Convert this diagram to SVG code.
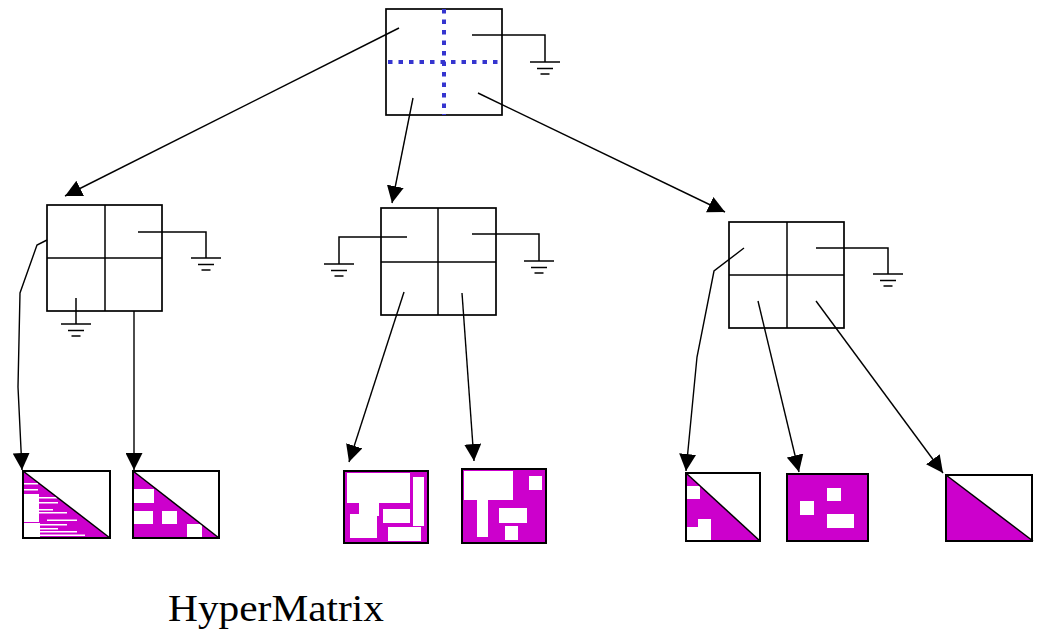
<svg xmlns="http://www.w3.org/2000/svg" width="1037" height="634" viewBox="0 0 1037 634">
<style>
.box{fill:none;stroke:#000;stroke-width:1.7}
.w{fill:none;stroke:#000;stroke-width:1.5}
.c{fill:none;stroke:#000;stroke-width:1.4;marker-end:url(#ah)}
.dot{fill:none;stroke:#3535cf;stroke-width:4;stroke-dasharray:4.5 6}
.mag{fill:#cc00cc}
.wh{fill:#fff}
.mb{fill:none;stroke:#000;stroke-width:2}
.lbl{font-family:"Liberation Serif","Times New Roman",serif;font-size:38px;fill:#000}
</style>
<defs>
<marker id="ah" markerUnits="userSpaceOnUse" viewBox="0 0 17 17" markerWidth="17" markerHeight="17" refX="17" refY="8.5" orient="auto">
<path d="M0,0 L17,8.5 L0,17 Z" fill="#000"/>
</marker>
<g id="gnd" class="w">
<line x1="-15" y1="0" x2="15" y2="0"/>
<line x1="-8" y1="6.5" x2="8" y2="6.5"/>
<line x1="-4.5" y1="12" x2="4.5" y2="12"/>
</g>
</defs>
<rect width="1037" height="634" fill="#fff"/>

<g id="root">
<rect class="box" x="386" y="9" width="116" height="106"/>
<line class="dot" x1="444" y1="9" x2="444" y2="115"/>
<line class="dot" x1="388" y1="62" x2="502" y2="62"/>
<polyline class="w" points="472,35 545,35 545,62"/>
<use href="#gnd" x="545" y="62"/>
</g>

<g id="nodeL">
<rect class="box" x="47" y="205" width="115" height="106"/>
<line class="w" x1="105" y1="205" x2="105" y2="311"/>
<line class="w" x1="47" y1="258" x2="162" y2="258"/>
<polyline class="w" points="138,232 206,232 206,258"/>
<use href="#gnd" x="206" y="258"/>
<line class="w" x1="76" y1="298" x2="76" y2="324"/>
<use href="#gnd" x="76" y="324"/>
</g>

<g id="nodeM">
<rect class="box" x="381" y="208" width="115" height="107"/>
<line class="w" x1="438" y1="208" x2="438" y2="315"/>
<line class="w" x1="381" y1="262" x2="496" y2="262"/>
<polyline class="w" points="407,237 339,237 339,264"/>
<use href="#gnd" x="339" y="264"/>
<polyline class="w" points="472,234 539,234 539,261"/>
<use href="#gnd" x="539" y="261"/>
</g>

<g id="nodeR">
<rect class="box" x="729" y="222" width="115" height="106"/>
<line class="w" x1="787" y1="222" x2="787" y2="328"/>
<line class="w" x1="729" y1="275" x2="844" y2="275"/>
<polyline class="w" points="816,248 888,248 888,274"/>
<use href="#gnd" x="888" y="274"/>
</g>

<g id="m1">
<rect class="wh" x="23" y="471" width="87" height="67"/>
<polygon class="mag" points="23,471 110,538 23,538"/>
<g class="wh">
<rect x="23" y="483" width="15" height="1.5"/>
<rect x="23" y="489" width="15" height="1.5"/>
<rect x="23" y="494" width="16" height="28"/>
<rect x="23" y="523" width="17" height="14"/>
<rect x="39" y="497" width="18" height="1.5"/>
<rect x="39" y="502" width="19" height="1.5"/>
<rect x="39" y="509" width="14" height="1.5"/>
<rect x="39" y="512" width="28" height="1.5"/>
<rect x="47" y="519.5" width="30" height="1.5"/>
<rect x="40" y="524" width="27" height="1.5"/>
<rect x="40" y="528" width="18" height="1.5"/>
<rect x="40" y="531" width="37" height="1.5"/>
<rect x="40" y="534.5" width="45" height="1.5"/>
</g>
<line class="w" x1="23" y1="471" x2="110" y2="538"/>
<rect class="mb" x="23" y="471" width="87" height="67"/>
</g>

<g id="m2">
<rect class="wh" x="133" y="471" width="86" height="67"/>
<polygon class="mag" points="133,471 219,538 133,538"/>
<g class="wh">
<rect x="134" y="489" width="20" height="14"/>
<rect x="134" y="511" width="19" height="13"/>
<rect x="162" y="511" width="15" height="13"/>
<rect x="187" y="524" width="15" height="14"/>
</g>
<line class="w" x1="133" y1="471" x2="219" y2="538"/>
<rect class="mb" x="133" y="471" width="86" height="67"/>
</g>

<g id="m3">
<rect class="mag" x="344" y="471" width="84" height="72"/>
<g class="wh">
<rect x="347" y="473" width="63" height="30"/>
<rect x="359" y="502" width="20" height="14"/>
<rect x="350" y="514" width="27" height="24"/>
<rect x="413" y="477" width="11" height="49"/>
<rect x="383" y="509" width="27" height="14"/>
<rect x="388" y="527" width="33" height="14"/>
</g>
<rect class="mb" x="344" y="471" width="84" height="72"/>
</g>

<g id="m4">
<rect class="mag" x="462" y="469" width="84" height="74"/>
<g class="wh">
<rect x="464" y="471" width="49" height="29"/>
<rect x="477" y="499" width="11" height="38"/>
<rect x="529" y="476" width="13" height="14"/>
<rect x="499" y="508" width="28" height="15"/>
<rect x="505" y="526" width="13" height="14"/>
</g>
<rect class="mb" x="462" y="469" width="84" height="74"/>
</g>

<g id="m5">
<rect class="wh" x="686" y="473" width="74" height="68"/>
<polygon class="mag" points="686,473 760,541 686,541"/>
<g class="wh">
<rect x="687" y="486" width="13" height="13"/>
<rect x="698" y="519" width="13" height="22"/>
<rect x="687" y="527" width="11" height="14"/>
</g>
<line class="w" x1="686" y1="473" x2="760" y2="541"/>
<rect class="mb" x="686" y="473" width="74" height="68"/>
</g>

<g id="m6">
<rect class="mag" x="787" y="474" width="81" height="67"/>
<g class="wh">
<rect x="800" y="501" width="14" height="14"/>
<rect x="827" y="488" width="14" height="13"/>
<rect x="827" y="514" width="27" height="14"/>
</g>
<rect class="mb" x="787" y="474" width="81" height="67"/>
</g>

<g id="m7">
<rect class="wh" x="946" y="475" width="87" height="66"/>
<polygon class="mag" points="946,475 1033,541 946,541"/>
<line class="w" x1="946" y1="475" x2="1033" y2="541"/>
<rect class="mb" x="946" y="475" width="86" height="66"/>
</g>

<g id="connectors">
<line class="c" x1="399" y1="28" x2="65" y2="196"/>
<line class="c" x1="413" y1="98" x2="392" y2="203"/>
<line class="c" x1="478" y1="93" x2="725" y2="212"/>
<polyline class="c" points="47,240 37,245 20,293 18,387 22,470"/>
<line class="c" x1="134" y1="311" x2="134" y2="470"/>
<line class="c" x1="404" y1="292" x2="349" y2="462"/>
<line class="c" x1="462" y1="293" x2="474" y2="461"/>
<polyline class="c" points="744,248 714,271 697,357 686,471"/>
<line class="c" x1="758" y1="301" x2="799" y2="472"/>
<line class="c" x1="816" y1="301" x2="943" y2="473"/>
</g>

<text class="lbl" x="168" y="621" textLength="216" lengthAdjust="spacingAndGlyphs">HyperMatrix</text>
</svg>
